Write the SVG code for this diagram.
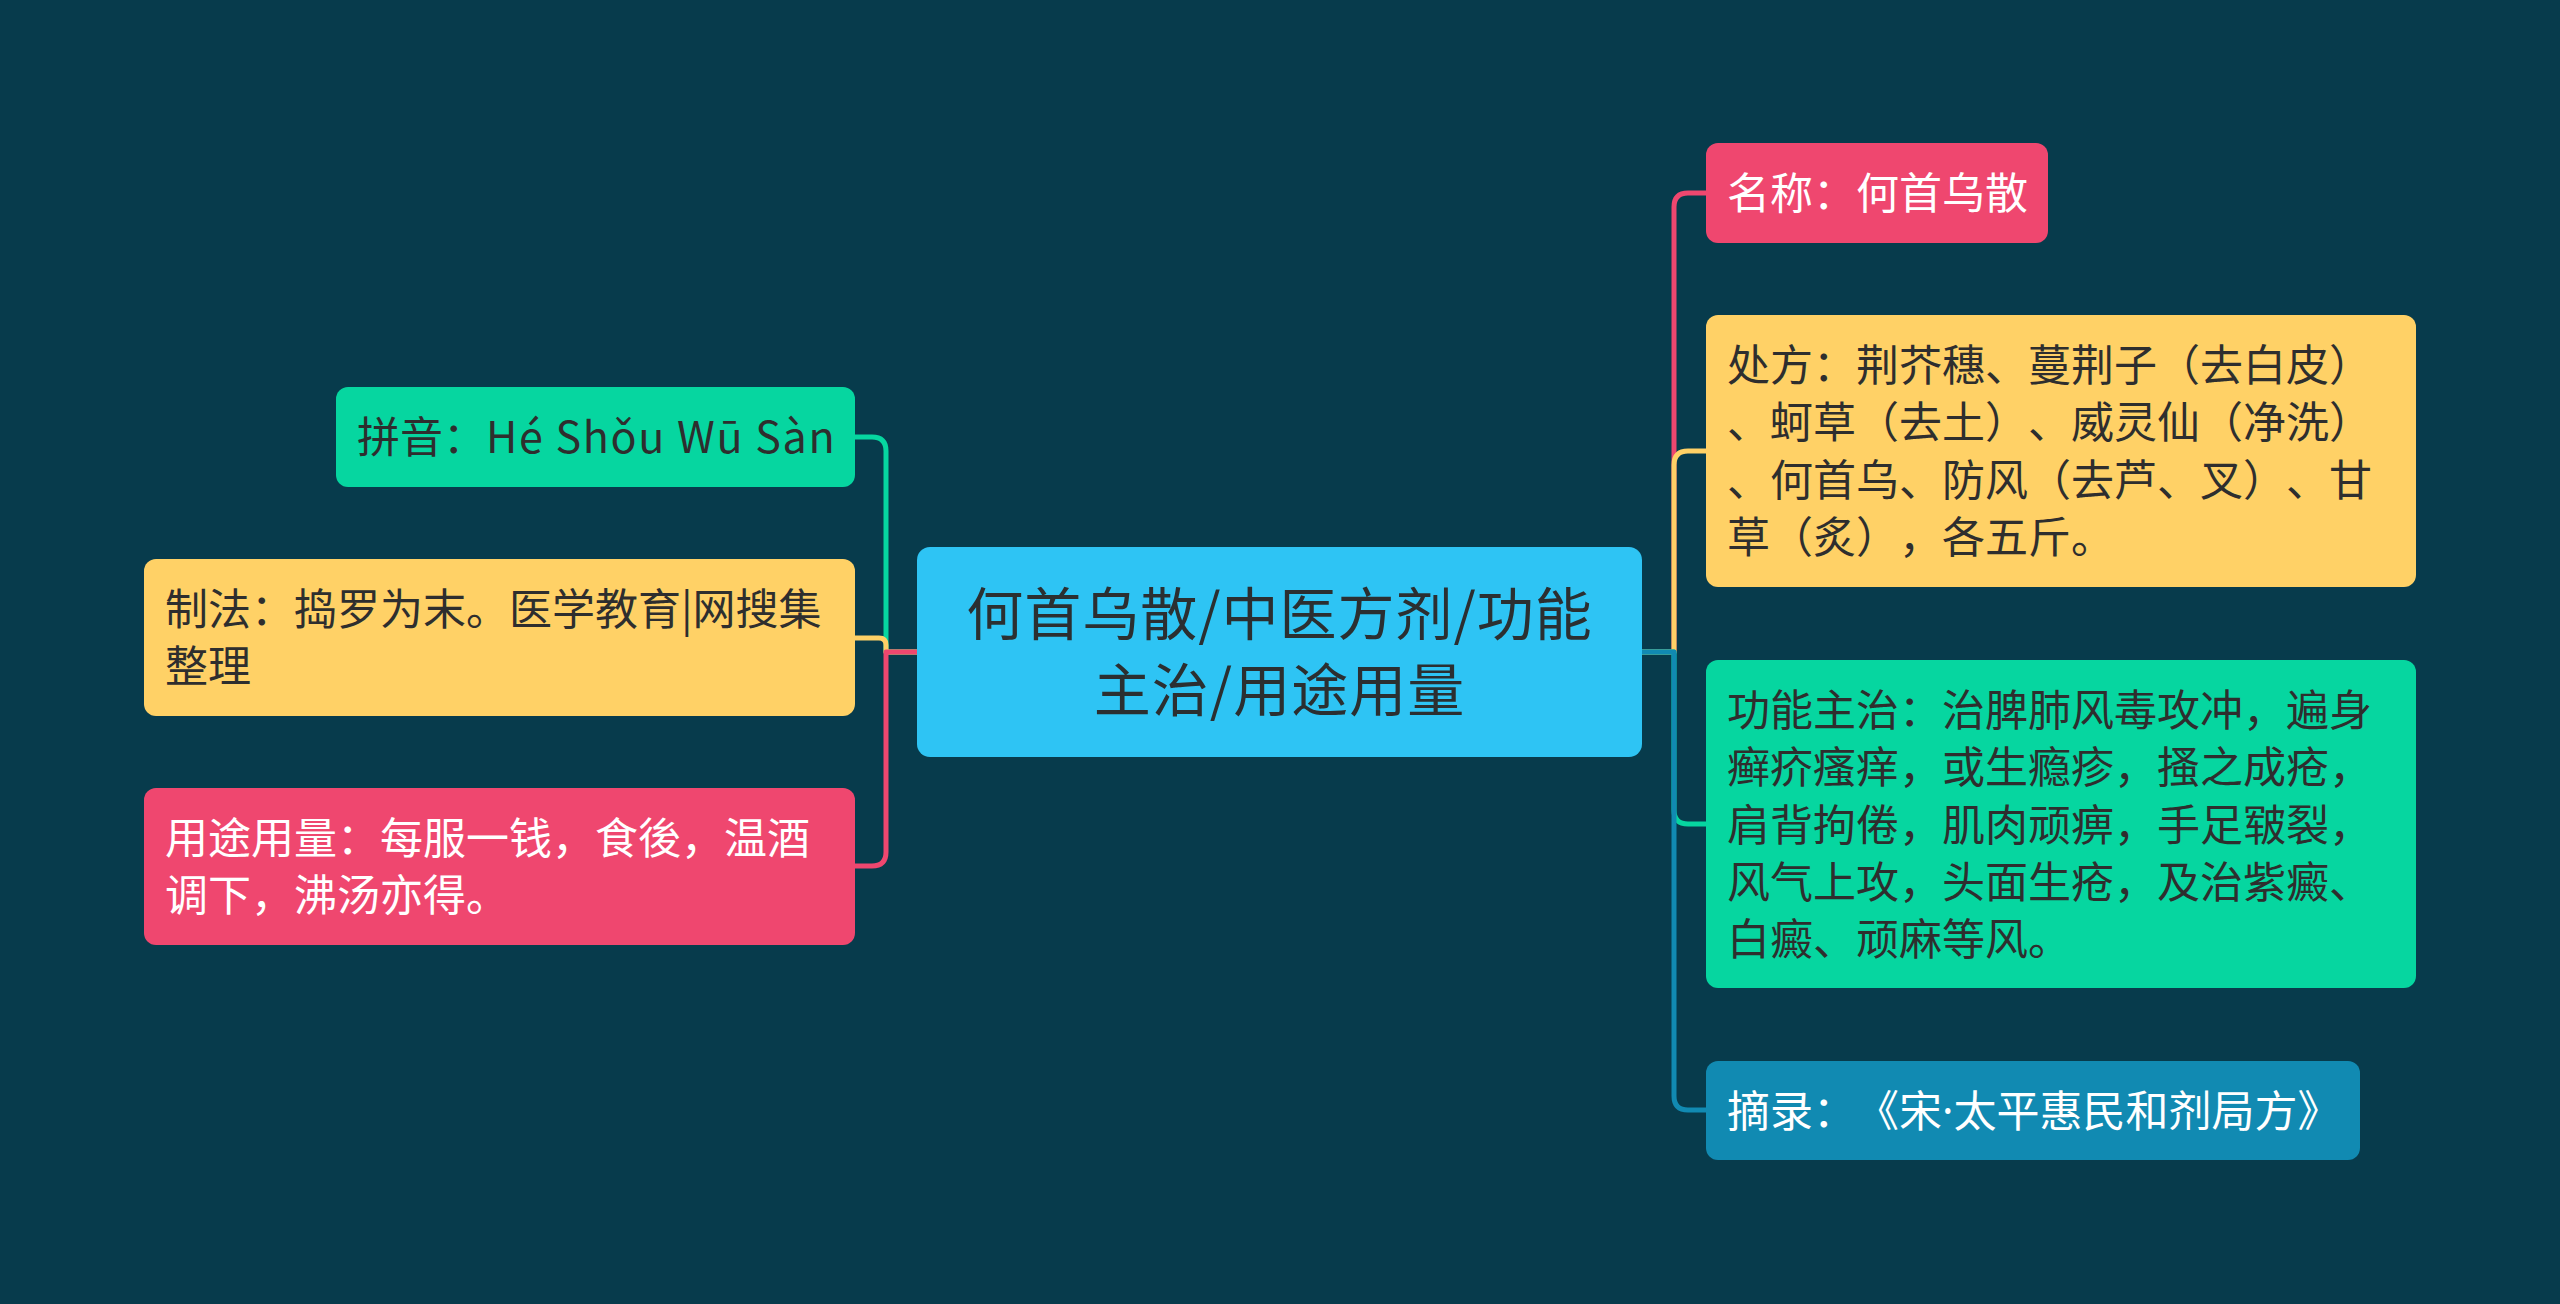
<svg xmlns="http://www.w3.org/2000/svg" width="2560" height="1304" viewBox="0 0 2560 1304">
<style>
text{text-spacing-trim:space-all}
.t{font-family:"Noto Sans CJK SC","Noto Sans",sans-serif;font-size:43px}
.c{font-family:"Noto Sans CJK SC","Noto Sans",sans-serif;font-size:57px;letter-spacing:1px;fill:#2b2f31;text-anchor:middle}
.dk{fill:#2e2e2e}
.wh{fill:#ffffff}
.lat{letter-spacing:1.6px}
.dot{font-family:"Noto Sans",sans-serif}
.ln{fill:none;stroke-width:5;stroke-linecap:butt;stroke-linejoin:round}
</style>
<rect x="0" y="0" width="2560" height="1304" fill="#073b4c"/>
<g id="connectors">
<path class="ln" stroke="#06d6a0" d="M917 652 H886 V451 Q886 437 872 437 H855"/>
<path class="ln" stroke="#ffd166" d="M917 652 H886 V645 Q886 638 879 638 H855"/>
<path class="ln" stroke="#ef476f" d="M917 652 H886 V852 Q886 866 872 866 H855"/>
<path class="ln" stroke="#ef476f" d="M1642 652 H1674 V207 Q1674 193 1688 193 H1706"/>
<path class="ln" stroke="#ffd166" d="M1642 652 H1674 V465 Q1674 451 1688 451 H1706"/>
<path class="ln" stroke="#06d6a0" d="M1642 652 H1674 V810 Q1674 824 1688 824 H1706"/>
<path class="ln" stroke="#118ab2" d="M1642 652 H1674 V1096 Q1674 1110 1688 1110 H1706"/>
</g>
<g id="center">
<rect x="917" y="547" width="725" height="210" rx="13" fill="#2ec4f4"/>
<text class="c" x="1279.5" y="635">何首乌散/中医方剂/功能</text>
<text class="c" x="1279.5" y="711">主治/用途用量</text>
</g>
<g id="pinyin">
<rect x="336" y="387" width="519" height="100" rx="12" fill="#06d6a0"/>
<text class="t dk" x="357" y="453">拼音：<tspan class="lat">Hé Shǒu Wū Sàn</tspan></text>
</g>
<g id="zhifa">
<rect x="144" y="559" width="711" height="157" rx="12" fill="#ffd166"/>
<text class="t dk" x="165" y="625">制法：捣罗为末。医学教育|网搜集</text>
<text class="t dk" x="165" y="682">整理</text>
</g>
<g id="yongtu">
<rect x="144" y="788" width="711" height="157" rx="12" fill="#ef476f"/>
<text class="t wh" x="165" y="854">用途用量：每服一钱，食後，温酒</text>
<text class="t wh" x="165" y="911">调下，沸汤亦得。</text>
</g>
<g id="mingcheng">
<rect x="1706" y="143" width="342" height="100" rx="12" fill="#ef476f"/>
<text class="t wh" x="1727" y="209">名称：何首乌散</text>
</g>
<g id="chufang">
<rect x="1706" y="315" width="710" height="272" rx="12" fill="#ffd166"/>
<text class="t dk" x="1727" y="381">处方：荆芥穗、蔓荆子（去白皮）</text>
<text class="t dk" x="1727" y="438">、蚵草（去土）、威灵仙（净洗）</text>
<text class="t dk" x="1727" y="496">、何首乌、防风（去芦、叉）、甘</text>
<text class="t dk" x="1727" y="553">草（炙），各五斤。</text>
</g>
<g id="gongneng">
<rect x="1706" y="660" width="710" height="328" rx="12" fill="#06d6a0"/>
<text class="t dk" x="1727" y="726">功能主治：治脾肺风毒攻冲，遍身</text>
<text class="t dk" x="1727" y="783">癣疥瘙痒，或生瘾疹，搔之成疮，</text>
<text class="t dk" x="1727" y="841">肩背拘倦，肌肉顽痹，手足皲裂，</text>
<text class="t dk" x="1727" y="898">风气上攻，头面生疮，及治紫癜、</text>
<text class="t dk" x="1727" y="955">白癜、顽麻等风。</text>
</g>
<g id="zhailu">
<rect x="1706" y="1061" width="654" height="99" rx="12" fill="#118ab2"/>
<text class="t wh" x="1727" y="1127">摘录：《宋<tspan class="dot">·</tspan>太平惠民和剂局方》</text>
</g>
</svg>
